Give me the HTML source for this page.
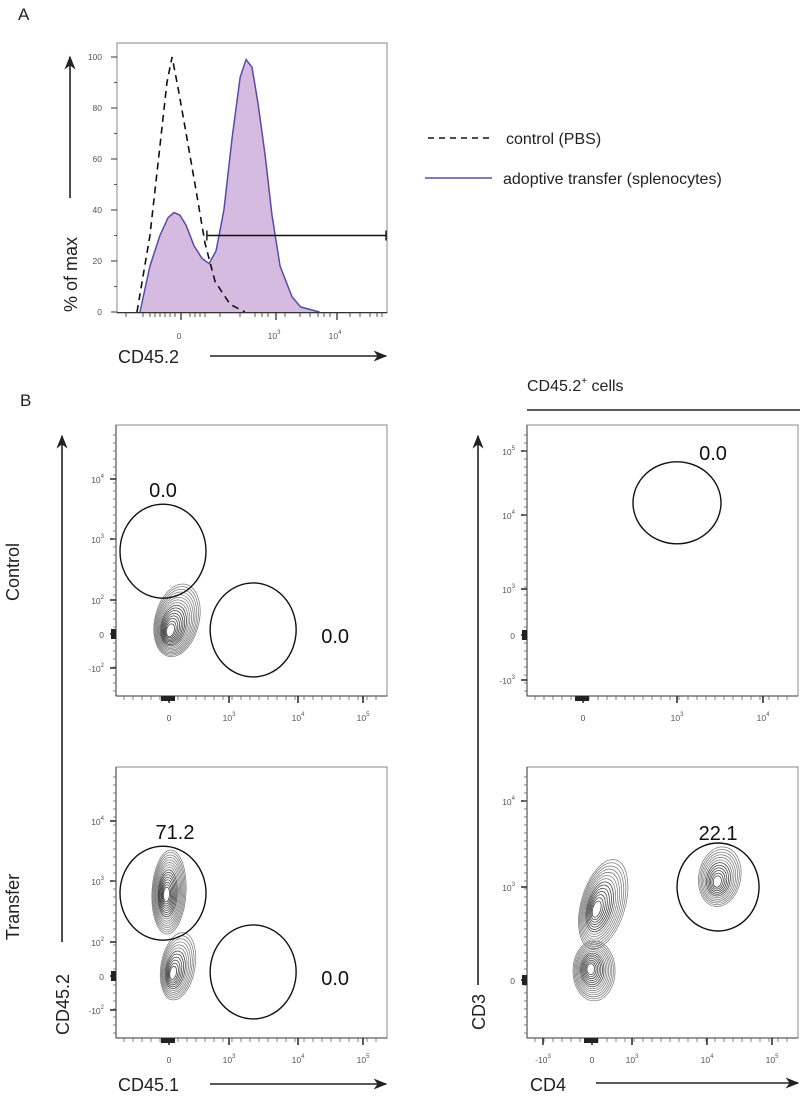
<!DOCTYPE html>
<html><head><meta charset="utf-8"><style>
html,body{margin:0;padding:0;background:#fff;width:800px;height:1096px;overflow:hidden}
svg{display:block;font-family:"Liberation Sans",sans-serif}
</style></head><body>
<svg id="fig" width="800" height="1096" viewBox="0 0 800 1096" xmlns="http://www.w3.org/2000/svg">
<defs><marker id="ahb" viewBox="0 0 10 10" refX="9" refY="5" markerWidth="14" markerHeight="14" markerUnits="userSpaceOnUse" orient="auto"><path d="M0,1 L10,5 L0,9 L3,5 Z" fill="#222"/></marker></defs>
<text x="18" y="20" font-size="17" fill="#222">A</text>
<text x="20" y="406" font-size="17" fill="#222">B</text>
<g>
<line x1="428" y1="138" x2="492" y2="138" stroke="#111" stroke-width="1.6" stroke-dasharray="6,5"/>
<text x="506" y="144" font-size="16" fill="#222">control (PBS)</text>
<line x1="425" y1="178" x2="492" y2="178" stroke="#5a4aa8" stroke-width="1.6"/>
<text x="503" y="184" font-size="16" fill="#222">adoptive transfer (splenocytes)</text>
</g>
<text x="527" y="391" font-size="16" fill="#222">CD45.2<tspan font-size="10" dy="-7">+</tspan><tspan dy="7"> cells</tspan></text>
<line x1="527" y1="410" x2="800" y2="410" stroke="#222" stroke-width="1.5"/>
<g id="root"></g>
</svg>
<script>
// ---------- Panel A data ----------
const controlX=[7.4,12.2,15.9,18.5,20.4,22.6,25.6,28.9,32.6,36.3,41.9,47.4];
const controlY=[0,30,65,90,100,88,70,50,27,12,3,0];
const transferX=[8.5,12.2,15.9,18.9,21.1,23.3,25.6,28.5,31.5,34.1,36.7,39.6,42.6,45.6,47.8,50,52.2,54.8,57.4,60.4,64.8,68,75];
const transferY=[0,18,30,37,39,38,34,26,21,19,24,40,68,92,99,96,82,62,38,18,6,2,0];
const histYTicks=[0,20,40,60,80,100];
const gateStart=33.3, gateLevel=30;
// ---------- Panel B gate values ----------
const gateLabels=["0.0","0.0","71.2","0.0","0.0","22.1"];
const gateX=[-0.1,1.35,-0.1,1.35,1.0,2.17];
const gateY=[1.8,0.12,1.8,0.12,2.19,1.0];
const gatePlot=[0,0,1,1,2,3];
const clusterPlot=[0,1,1,3,3,3];
const clusterX=[0.0,-0.05,0.05,0.08,-0.04,2.15];
const clusterY=[0.05,1.77,0.05,0.75,0.12,1.05];

const NS="http://www.w3.org/2000/svg";
const root=document.getElementById('root');
function el(t,a,p){const e=document.createElementNS(NS,t);for(const k in a)e.setAttribute(k,a[k]);(p||root).appendChild(e);return e;}

// ---------- Panel A ----------
const xA=u=>117+u*2.7, yA=v=>312-v*2.55;
const gA=el('g',{});


const boxA=el('rect',{x:117,y:43,width:270,height:270,fill:'none',stroke:'#888','stroke-width':1},gA);


let d='M'+xA(transferX[0])+','+yA(0);
transferX.forEach((x,i)=>d+=' L'+xA(x)+','+yA(transferY[i]));
d+=' L'+xA(100)+','+yA(0)+' Z';
const fillT=el('path',{d:d,fill:'#d6bbe0',stroke:'none'},gA);


const lineT=el('path',{d:'M'+transferX.map((x,i)=>xA(x)+','+yA(transferY[i])).join(' L'),fill:'none',stroke:'#5a4aa8','stroke-width':1.5},gA);


const lineC=el('path',{d:'M'+controlX.map((x,i)=>xA(x)+','+yA(controlY[i])).join(' L'),fill:'none',stroke:'#111','stroke-width':1.6,'stroke-dasharray':'7,5'},gA);


el('line',{x1:117,y1:312.5,x2:387,y2:312.5,stroke:'#333','stroke-width':1},gA);
const gl=el('line',{x1:xA(gateStart),y1:yA(gateLevel),x2:386,y2:yA(gateLevel),stroke:'#111','stroke-width':1.6},gA);


el('line',{x1:xA(gateStart),y1:yA(gateLevel)-5,x2:xA(gateStart),y2:yA(gateLevel)+5,stroke:'#111','stroke-width':1.4},gA);
el('line',{x1:386,y1:yA(gateLevel)-5,x2:386,y2:yA(gateLevel)+5,stroke:'#111','stroke-width':1.4},gA);
histYTicks.forEach(v=>{
  el('line',{x1:111,y1:yA(v),x2:117,y2:yA(v),stroke:'#333'},gA);
  const t=el('text',{x:102,y:yA(v)+3,'font-size':8.5,'text-anchor':'end',fill:'#555'},gA);
  t.textContent=v;
  
  
  if(v<100) el('line',{x1:114,y1:yA(v+10),x2:117,y2:yA(v+10),stroke:'#555'},gA);
});
[[181,'0',''],[276,'10','3'],[337,'10','4']].forEach(a=>{
  el('line',{x1:a[0],y1:313,x2:a[0],y2:320,stroke:'#333','stroke-width':1.3},gA);
  const t=el('text',{x:a[0]-2,y:339,'font-size':8.5,'text-anchor':'middle',fill:'#555'},gA);
  t.innerHTML=a[1]+(a[2]?'<tspan font-size="6" dy="-5">'+a[2]+'</tspan>':'');
  
  
});
[126,143,150,155,160,165,170,175,190,195,200,205,220,240,255,262,268,285,300,310,318,324,330,350,360,370,377,382].forEach(x=>el('line',{x1:x,y1:313,x2:x,y2:317,stroke:'#555'},gA));
el('line',{x1:70,y1:198,x2:70,y2:57,stroke:'#222','stroke-width':1.6,'marker-end':'url(#ahb)'},gA);
const yt=el('text',{x:0,y:0,'font-size':18,fill:'#222',transform:'translate(77,312) rotate(-90)'},gA);
yt.textContent='% of max';


const xt=el('text',{x:118,y:363,'font-size':18,fill:'#222'},gA);
xt.textContent='CD45.2';


el('line',{x1:210,y1:356,x2:386,y2:356,stroke:'#222','stroke-width':1.6,'marker-end':'url(#ahb)'},gA);

// ---------- Panel B plots ----------
function sup(b,e){return b+(e?'<tspan font-size="6" dy="-5">'+e+'</tspan>':'');}
const plots=[
 {x0:116,y0:425,xd:[0,1,2,3],xp:[169,229,298,363],xl:[['0',''],['10','3'],['10','4'],['10','5']],
  yd:[-1,0,1,2,3],yp:[668,634,600,539,479],yl:[['-10','2'],['0',''],['10','2'],['10','3'],['10','4']],name:'control-cd45-plot'},
 {x0:116,y0:767,xd:[0,1,2,3],xp:[169,229,298,363],xl:[['0',''],['10','3'],['10','4'],['10','5']],
  yd:[-1,0,1,2,3],yp:[1010,976,942,881,821],yl:[['-10','2'],['0',''],['10','2'],['10','3'],['10','4']],name:'transfer-cd45-plot'},
 {x0:527,y0:425,xd:[0,1,2],xp:[583,677,763],xl:[['0',''],['10','3'],['10','4']],
  yd:[-1,0,1,2,3],yp:[680,635,589,515,451],yl:[['-10','3'],['0',''],['10','3'],['10','4'],['10','5']],name:'control-cd3-cd4-plot'},
 {x0:527,y0:767,xd:[-1,0,1,2,3],xp:[543,592,632,707,772],xl:[['-10','3'],['0',''],['10','3'],['10','4'],['10','5']],
  yd:[0,1,2],yp:[980,887,801],yl:[['0',''],['10','3'],['10','4']],name:'transfer-cd3-cd4-plot'}
];
function interp(v,ds,ps){
  let i=0; while(i<ds.length-2 && v>ds[i+1]) i++;
  return ps[i]+(v-ds[i])*(ps[i+1]-ps[i])/(ds[i+1]-ds[i]);
}
plots.forEach(p=>{
  p.sx=v=>interp(v,p.xd,p.xp); p.sy=v=>interp(v,p.yd,p.yp);
  const g=el('g',{});
  
  
  p.g=g;
  el('rect',{x:p.x0,y:p.y0,width:271,height:271,fill:'none',stroke:'#888','stroke-width':1},g);
  el('line',{x1:p.x0,y1:p.y0,x2:p.x0,y2:p.y0+271,stroke:'#333'},g);
  el('line',{x1:p.x0,y1:p.y0+271,x2:p.x0+271,y2:p.y0+271,stroke:'#333'},g);
  p.xp.forEach((x,i)=>{
    el('line',{x1:x,y1:p.y0+271,x2:x,y2:p.y0+278,stroke:'#222','stroke-width':1.5},g);
    const t=el('text',{x:x,y:p.y0+296,'font-size':8.5,'text-anchor':'middle',fill:'#555'},g);
    t.innerHTML=sup(p.xl[i][0],p.xl[i][1]);
    
    
  });
  for(let x=p.x0+8;x<p.x0+268;x+=9) el('line',{x1:x,y1:p.y0+271,x2:x,y2:p.y0+275,stroke:'#666','stroke-width':0.8},g);
  p.yp.forEach((y,i)=>{
    el('line',{x1:p.x0-6,y1:y,x2:p.x0,y2:y,stroke:'#222','stroke-width':1.5},g);
    const t=el('text',{x:p.x0-12,y:y+4,'font-size':8.5,'text-anchor':'end',fill:'#555'},g);
    t.innerHTML=sup(p.yl[i][0],p.yl[i][1]);
    
    
  });
  for(let y=p.y0+10;y<p.y0+268;y+=8) el('line',{x1:p.x0-3,y1:y,x2:p.x0,y2:y,stroke:'#666','stroke-width':0.8},g);
  const zy=p.sy(0), zx=p.sx(0);
  el('rect',{x:p.x0-5,y:zy-5,width:5,height:10,fill:'#222'},g);
  el('rect',{x:zx-8,y:p.y0+271,width:14,height:5,fill:'#222'},g);
});
// clusters
const shapes=[
 {n:16,rx:22,ry:37,rot:14,sx:8,sy:-12},
 {n:16,rx:17,ry:42,rot:3,sx:3,sy:-3},
 {n:12,rx:17,ry:34,rot:10,sx:6,sy:-8},
 {n:14,rx:22,ry:46,rot:16,sx:8,sy:-6},
 {n:14,rx:21,ry:30,rot:0,sx:4,sy:2},
 {n:12,rx:21,ry:30,rot:10,sx:3,sy:-6}
];
clusterX.forEach((cx,i)=>{
  const p=plots[clusterPlot[i]], s=shapes[i];
  const px=p.sx(cx), py=p.sy(clusterY[i]);
  const g=el('g',{},p.g);
  
  
  for(let k=1;k<=s.n;k++){
    const f=0.12+0.88*k/s.n;
    el('ellipse',{cx:px+s.sx*f,cy:py+s.sy*f,rx:s.rx*f,ry:s.ry*f,fill:'none',stroke:k<s.n*0.55?'#3a3a3a':'#7a7a7a','stroke-width':0.75,transform:`rotate(${s.rot} ${px+s.sx*f} ${py+s.sy*f})`},g);
  }
});
// gates
const labelOff=[[0,-61],[82,6],[12,-61],[82,6],[36,-50],[0,-54]];
gateX.forEach((gx,i)=>{
  const p=plots[gatePlot[i]];
  const px=p.sx(gx), py=p.sy(gateY[i]);
  const ry=(i>=4)?(i==4?41:44):47, rx=(i==4)?44:(i==5?41:43);
  const e=el('ellipse',{cx:px,cy:py,rx:rx,ry:ry,fill:'none',stroke:'#111','stroke-width':1.4},p.g);
  
  
  const t=el('text',{x:px+labelOff[i][0],y:py+labelOff[i][1]+7,'font-size':20,'text-anchor':'middle',fill:'#111'},p.g);
  t.textContent=gateLabels[i];
  
  
});
function txt(s,a,name){const t=el('text',a);t.textContent=s;return t;}
el('line',{x1:62,y1:942,x2:62,y2:436,stroke:'#222','stroke-width':1.6,'marker-end':'url(#ahb)'});
txt('CD45.2',{x:0,y:0,'font-size':18,fill:'#222',transform:'translate(69,1035) rotate(-90)'},'cd45-2-axis-title');
el('line',{x1:478,y1:985,x2:478,y2:436,stroke:'#222','stroke-width':1.6,'marker-end':'url(#ahb)'});
txt('CD3',{x:0,y:0,'font-size':18,fill:'#222',transform:'translate(485,1030) rotate(-90)'},'cd3-axis-title');
txt('Control',{x:0,y:0,'font-size':18,fill:'#222','text-anchor':'middle',transform:'translate(19,572) rotate(-90)'},'control-row-label');
txt('Transfer',{x:0,y:0,'font-size':18,fill:'#222','text-anchor':'middle',transform:'translate(19,907) rotate(-90)'},'transfer-row-label');
txt('CD45.1',{x:118,y:1091,'font-size':18,fill:'#222'},'cd45-1-axis-title');
el('line',{x1:210,y1:1084,x2:386,y2:1084,stroke:'#222','stroke-width':1.6,'marker-end':'url(#ahb)'});
txt('CD4',{x:530,y:1091,'font-size':18,fill:'#222'},'cd4-axis-title');
el('line',{x1:596,y1:1083,x2:798,y2:1083,stroke:'#222','stroke-width':1.6,'marker-end':'url(#ahb)'});
</script>
</body></html>
